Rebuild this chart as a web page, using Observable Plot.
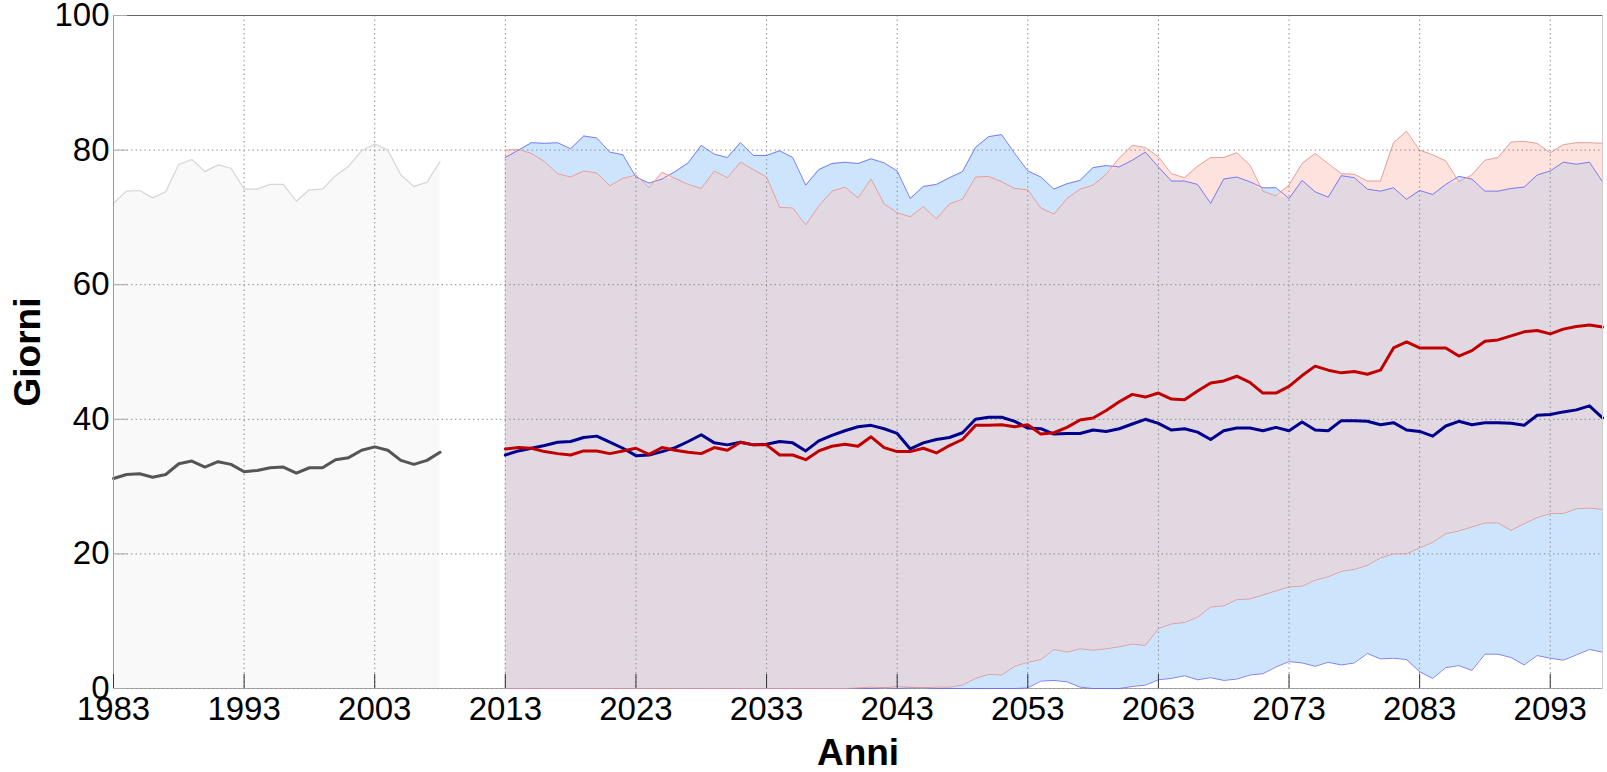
<!DOCTYPE html>
<html>
<head>
<meta charset="utf-8">
<script src="https://cdn.jsdelivr.net/npm/d3@7"></script>
<script src="https://cdn.jsdelivr.net/npm/@observablehq/plot@0.6"></script>
<style>
  html, body { margin: 0; padding: 0; background: #fff; }
  svg { display: block; }
</style>
</head>
<body>
<div id="chart"></div>
<script>
// ---- Data ----
const histStart = 1983;
const futStart = 2013;

const histMean = [31.2,31.8,31.9,31.4,31.8,33.4,33.8,32.9,33.7,33.3,32.2,32.4,32.8,32.9,32.0,32.8,32.8,34.0,34.3,35.4,35.9,35.4,33.9,33.3,33.9,35.1];
const histUpper = [72.1,73.9,74.0,72.9,73.8,77.9,78.6,76.8,77.8,77.3,74.2,74.2,74.9,74.9,72.4,74.1,74.2,76.2,77.6,79.9,80.9,80.0,76.3,74.6,75.2,78.3];

const blueUpper = [
  78.9,80.0,81.1,81.0,81.1,80.2,82.1,81.8,79.7,79.3,
  76.0,75.1,75.7,76.8,78.1,80.7,79.4,78.9,81.1,79.2,
  79.2,79.9,78.9,74.8,77.1,78.0,78.2,78.0,78.7,78.1,
  76.9,72.8,74.6,74.9,75.9,76.8,80.4,82.0,82.3,79.5,
  76.9,76.0,74.2,75.0,75.5,77.4,77.7,77.5,78.5,79.7,
  77.5,75.4,75.4,74.9,72.1,75.7,76.0,75.3,74.4,74.4,
  72.8,75.5,73.8,73.0,76.2,75.9,74.2,73.9,74.4,72.7,
  74.0,73.4,74.9,76.1,75.7,73.9,73.9,74.3,74.5,76.3,
  76.9,78.2,77.9,78.2,75.3
];
const blueLower = [
  0,0,0,0,0,0,0,0,0,0,
  0,0,0,0,0,0,0,0,0,0,
  0,0,0,0,0,0,0,0,0,0.1,
  0,0.1,0.1,0,0,0,0,0,0,0,
  0.1,1.1,1.2,1.0,0.2,0,0,0,0.3,0.5,
  1.3,1.5,1.9,1.3,1.6,1.2,1.4,2.0,2.2,3.2,
  4.0,3.8,3.3,3.9,3.5,3.8,5.2,4.4,4.5,4.3,
  2.5,1.5,3.1,3.4,2.7,5.1,5.1,4.6,3.5,4.9,
  4.5,4.2,5.0,5.8,5.4
];
const blueMean = [
  34.7,35.3,35.7,36.1,36.6,36.7,37.3,37.5,36.6,35.7,
  34.6,34.7,35.2,35.8,36.7,37.7,36.5,36.2,36.6,36.2,
  36.3,36.7,36.5,35.3,36.8,37.6,38.3,38.9,39.1,38.6,
  37.9,35.6,36.5,37.0,37.3,38.0,40.0,40.3,40.3,39.7,
  38.7,38.6,37.8,37.9,37.9,38.4,38.2,38.6,39.3,40.0,
  39.4,38.4,38.6,38.1,37.0,38.3,38.7,38.7,38.3,38.8,
  38.3,39.6,38.4,38.3,39.8,39.8,39.7,39.2,39.5,38.4,
  38.2,37.5,39.0,39.7,39.2,39.5,39.5,39.4,39.1,40.6,
  40.7,41.1,41.4,42.0,40.2
];

const redUpper = [
  80.0,80.1,79.5,78.3,76.5,76.0,76.9,76.6,74.7,75.8,
  76.3,74.4,76.7,75.8,74.9,74.3,76.9,75.9,78.2,77.1,
  76.0,71.5,71.4,68.9,71.7,73.9,74.5,72.9,75.7,72.0,
  70.7,70.1,71.6,69.8,72.0,72.7,76.0,76.1,75.3,74.3,
  74.1,71.4,70.5,72.8,74.2,74.8,76.4,78.8,80.7,80.4,
  79.0,76.5,75.9,77.6,78.9,78.9,79.6,77.8,73.9,73.2,
  74.8,78.0,79.5,78.0,76.5,76.4,75.4,75.4,81.1,82.8,
  80.0,79.3,78.4,75.3,76.3,78.5,78.9,81.2,81.3,81.0,
  79.6,80.8,81.1,81.1,81.0
];
const redLower = [
  0,0,0,0,0,0,0,0,0,0,
  0,0,0,0,0,0,0,0,0,0,
  0,0,0,0,0,0,0,0.1,0.2,0.1,
  0.3,0.2,0.1,0.2,0.2,0.5,1.5,2.1,2.0,3.3,
  3.9,4.3,5.8,5.4,5.9,5.7,5.9,6.2,6.6,6.4,
  8.9,9.6,9.8,10.6,12.1,12.3,13.2,13.3,13.9,14.5,
  15.1,15.2,16.1,16.6,17.4,17.7,18.3,19.4,20.0,20.0,
  20.9,21.7,23.0,23.4,24.0,24.6,24.6,23.5,24.5,25.4,
  26.0,26.0,26.7,26.8,26.6
];
const redMean = [
  35.6,35.8,35.7,35.2,34.9,34.7,35.3,35.3,34.9,35.3,
  35.7,34.8,35.8,35.4,35.1,34.9,35.8,35.4,36.6,36.2,
  36.2,34.7,34.7,34.0,35.3,36.0,36.3,36.0,37.4,35.8,
  35.2,35.2,35.7,35.0,36.1,37.0,39.1,39.1,39.2,38.9,
  39.2,37.8,38.0,38.8,39.9,40.2,41.3,42.6,43.7,43.3,
  43.9,43.0,42.9,44.2,45.4,45.7,46.4,45.5,43.9,43.9,
  44.9,46.5,47.9,47.3,46.9,47.1,46.7,47.3,50.6,51.5,
  50.6,50.6,50.6,49.4,50.2,51.6,51.8,52.4,53.0,53.2,
  52.7,53.4,53.8,54.0,53.7
];

const xDomain = [1983, 2097];
const yDomain = [0, 100];
const xTicks = [1983, 1993, 2003, 2013, 2023, 2033, 2043, 2053, 2063, 2073, 2083, 2093];
const yTicks = [0, 20, 40, 60, 80, 100];
const xTitle = "Anni";
const yTitle = "Giorni";

// ---- Tables built from the arrays ----
const hist = histMean.map((m, i) => ({ year: histStart + i, mean: m, upper: histUpper[i] }));
const fut = blueMean.map((_, i) => {
  const lo = Math.max(blueLower[i], redLower[i]);
  const hi = Math.min(blueUpper[i], redUpper[i]);
  return {
    year: futStart + i,
    bLo: blueLower[i], bHi: blueUpper[i], bMean: blueMean[i],
    rLo: redLower[i], rHi: redUpper[i], rMean: redMean[i],
    oLo: lo, oHi: Math.max(lo, hi)
  };
});

const font = '"Liberation Sans", Arial, Helvetica, sans-serif';
const tickFont = '"Liberation Sans Narrow", "Arial Narrow", "Liberation Sans", Arial, sans-serif';
const gridStyle = { stroke: "#8f8f8f", strokeOpacity: 1, strokeWidth: 1, strokeDasharray: "1.5,3" };

const chart = Plot.plot({
  width: 1607,
  height: 772,
  marginLeft: 113,
  marginRight: 5,
  marginTop: 15,
  marginBottom: 84,
  style: { fontFamily: font, background: "white", color: "black" },
  x: { domain: xDomain },
  y: { domain: yDomain },
  marks: [
    Plot.frame({ anchor: "bottom", stroke: "#a8a8a8" }),
    Plot.areaY(hist, { x: "year", y1: 0, y2: "upper", fill: "#f9f9f9" }),
    Plot.areaY(fut, { x: "year", y1: "bLo", y2: "bHi", fill: "#cce5fd" }),
    Plot.areaY(fut, { x: "year", y1: "rLo", y2: "rHi", fill: "#fde2de" }),
    Plot.areaY(fut, { x: "year", y1: "oLo", y2: "oHi", fill: "#e2d8e2" }),
    Plot.gridX(xTicks, gridStyle),
    Plot.gridY(yTicks, gridStyle),
    Plot.line(hist, { x: "year", y: "upper", stroke: "#d6d6d6", strokeWidth: 1.2 }),
    Plot.line(fut, { x: "year", y: "bHi", stroke: "#6a6af5", strokeWidth: 1, strokeOpacity: 0.85 }),
    Plot.line(fut, { x: "year", y: "bLo", stroke: "#6a6af5", strokeWidth: 1, strokeOpacity: 0.85 }),
    Plot.line(fut, { x: "year", y: "rHi", stroke: "#e39590", strokeWidth: 1, strokeOpacity: 0.85 }),
    Plot.line(fut, { x: "year", y: "rLo", stroke: "#e39590", strokeWidth: 1, strokeOpacity: 0.85 }),
    Plot.line(hist, { x: "year", y: "mean", stroke: "#555555", strokeWidth: 3 }),
    Plot.line(fut, { x: "year", y: "bMean", stroke: "#00008c", strokeWidth: 3 }),
    Plot.line(fut, { x: "year", y: "rMean", stroke: "#c00000", strokeWidth: 3 }),
    Plot.frame({ anchor: "top", stroke: "#666666" }),
    Plot.frame({ anchor: "right", stroke: "#cccccc" }),
    Plot.frame({ anchor: "left", stroke: "#9a9a9a" }),
    Plot.axisX({ ticks: xTicks, tickSize: -14, tickPadding: 22, stroke: "#333", fill: "black",
                 fontSize: 33, fontFamily: tickFont, tickFormat: d => String(d), label: null }),
    Plot.axisY({ ticks: yTicks, tickSize: -14, tickPadding: 18, stroke: "#aaa", fill: "black",
                 fontSize: 33, fontFamily: tickFont, tickFormat: d => String(d), label: null }),
    Plot.text([xTitle], { text: d => d, frameAnchor: "bottom", lineAnchor: "bottom", textAnchor: "middle",
                          dy: 76, fontSize: 37, fontWeight: "bold", fill: "black" }),
    Plot.text([yTitle], { text: d => d, frameAnchor: "left", textAnchor: "middle", lineAnchor: "middle",
                          dx: -85, rotate: -90, fontSize: 37, fontWeight: "bold", fill: "black" })
  ]
});

document.getElementById("chart").appendChild(chart);
</script>
</body>
</html>
